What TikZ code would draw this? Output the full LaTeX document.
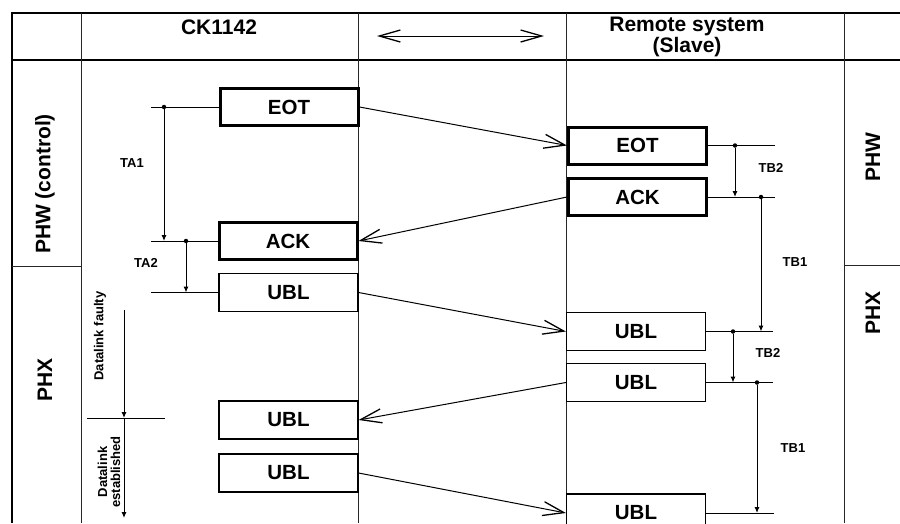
\documentclass[tikz,border=0pt]{standalone}
\usepackage{fontspec}
\setmainfont{Liberation Sans}
\usetikzlibrary{arrows.meta}
\newcommand\bigfont{\fontsize{20.5}{19}\selectfont\bfseries}
\newcommand\headfont{\fontsize{21}{19}\selectfont\bfseries}
\newcommand\smallfont{\fontsize{13}{13}\selectfont\bfseries}
\begin{document}
\begin{tikzpicture}[x=1pt,y=-1pt,
  frame/.style={line width=2.4pt},
  grid/.style={line width=1pt, draw=black!85},
  box/.style={draw, inner sep=0pt, minimum width=138pt, minimum height=37pt, font=\bigfont},
  heavy/.style={box, line width=3pt},
  light/.style={box, line width=1.2pt, minimum width=139pt, minimum height=38pt},
  msg/.style={line width=1pt, -{Straight Barb[length=21pt,width=14pt,line width=1.3pt]}},
  tick/.style={line width=1pt},
  span/.style={line width=1pt, -{Latex[length=6pt,width=5pt]}},
  dot/.style={circle, fill, inner sep=0pt, minimum size=4.5pt},
  lbl/.style={font=\smallfont},
  side/.style={font=\headfont, rotate=90}
]
\useasboundingbox (0,0) rectangle (900,523);
\clip (0,0) rectangle (900,523);

% table frame
\draw[frame] (900,13) -- (12,13) -- (12,523);
\draw[line width=1.6pt] (12,60) -- (900,60);
\foreach \x in {81,358,566,844} \draw[grid] (\x,13) -- (\x,523);
\draw[grid] (12,266) -- (81,266);
\draw[grid] (844,265) -- (900,265);

% header
\node[font=\headfont] (hdrA) at (219,27) {CK1142};
\node[font=\headfont, align=center] (hdrB) at (687,37) {Remote system\\(Slave)};
\coordinate (dirL) at (377,36);
\coordinate (dirR) at (544,36);
\draw[line width=1pt, {Straight Barb[length=21pt,width=12pt,line width=1.3pt]}-{Straight Barb[length=21pt,width=12pt,line width=1.3pt]}] (dirL) -- (dirR);

% phase labels
\node[side] (phwL) at (45,184) {PHW (control)};
\node[side] (phxL) at (45,380) {PHX};
\node[side] (phwR) at (873,157) {PHW};
\node[side] (phxR) at (873,313) {PHX};

% CK1142 frames
\node[heavy] (lEOT) at (289,107) {EOT};
\node[heavy] (lACK) at (288,241) {ACK};
\node[light] (lUBLa) at (288.5,292.5) {UBL};
\node[light] (lUBLb) at (288.5,420) {UBL};
\node[light] (lUBLc) at (288.5,473) {UBL};

% remote frames
\node[heavy] (rEOT) at (637.5,145.5) {EOT};
\node[heavy] (rACK) at (637.5,197) {ACK};
\node[light] (rUBLa) at (636,331.5) {UBL};
\node[light] (rUBLb) at (636,382.5) {UBL};
\node[light] (rUBLc) at (636,513) {UBL};

% messages
\draw[msg] (lEOT.east) -- (rEOT.west);
\draw[msg] (rACK.west) -- (lACK.east);
\draw[msg] (lUBLa.east) -- (rUBLa.west);
\draw[msg] (rUBLb.west) -- (lUBLb.east);
\draw[msg] (lUBLc.east) -- (rUBLc.west);

% CK1142 timers
\coordinate (ta1a) at (151,107);
\coordinate (ta1b) at (151,241);
\coordinate (ta2b) at (151,292.5);
\draw[tick] (ta1a) -- (lEOT.west);
\draw[tick] (ta1b) -- (lACK.west);
\draw[tick] (ta2b) -- (lUBLa.west);
\node[dot] (d1) at (164,107) {};
\coordinate (d1e) at (164,241);
\draw[span] (d1) -- (d1e);
\node[dot] (d2) at (186,241) {};
\coordinate (d2e) at (186,292.5);
\draw[span] (d2) -- (d2e);
\node[lbl] (ta1) at (132,163) {TA1};
\node[lbl] (ta2) at (146,263) {TA2};

% datalink state
\coordinate (dlA) at (124,310);
\coordinate (dlB) at (124,418);
\coordinate (dlC) at (124,518);
\coordinate (dlL) at (87,418);
\coordinate (dlR) at (165,418);
\draw[tick] (dlL) -- (dlR);
\draw[span] (dlA) -- (dlB);
\draw[span] (dlB) -- (dlC);
\node[lbl, rotate=90] (dlf) at (100,336) {Datalink faulty};
\node[lbl, rotate=90, align=center] (dle) at (109,472) {Datalink\\established};

% remote timers
\coordinate (tb2a) at (775,145.5);
\coordinate (tb2b) at (775,197);
\coordinate (tb2c) at (773,331.5);
\coordinate (tb2d) at (773,382.5);
\coordinate (tb1e) at (774,513);
\draw[tick] (rEOT.east) -- (tb2a);
\draw[tick] (rACK.east) -- (tb2b);
\draw[tick] (rUBLa.east) -- (tb2c);
\draw[tick] (rUBLb.east) -- (tb2d);
\draw[tick] (rUBLc.east) -- (tb1e);
\node[dot] (e1) at (735,145.5) {};
\coordinate (e1e) at (735,197);
\draw[span] (e1) -- (e1e);
\node[dot] (e2) at (761,197) {};
\coordinate (e2e) at (761,331.5);
\draw[span] (e2) -- (e2e);
\node[dot] (e3) at (733,331.5) {};
\coordinate (e3e) at (733,382.5);
\draw[span] (e3) -- (e3e);
\node[dot] (e4) at (757,382.5) {};
\coordinate (e4e) at (757,513);
\draw[span] (e4) -- (e4e);
\node[lbl] (tb2) at (771,168) {TB2};
\node[lbl] (tb1) at (795,262) {TB1};
\node[lbl] (tb2x) at (768,353) {TB2};
\node[lbl] (tb1x) at (793,448) {TB1};
\end{tikzpicture}
\end{document}
